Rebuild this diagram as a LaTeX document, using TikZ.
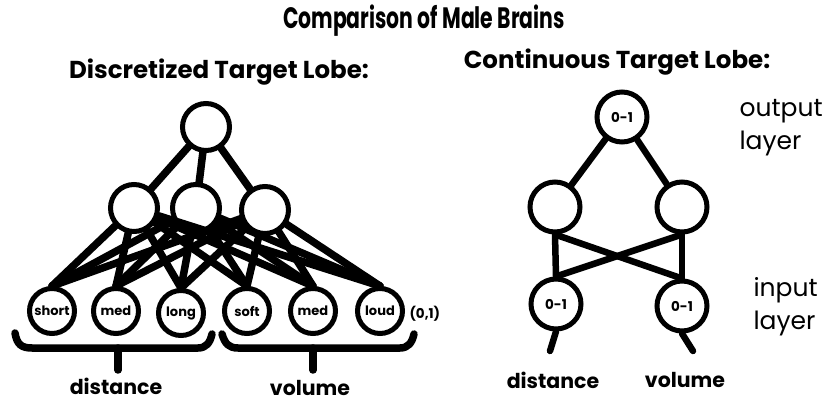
\documentclass[tikz,border=0pt]{standalone}
\usepackage{fontspec}
\setmainfont{Poppins}
\newfontfamily\headfont{Poppins}[FakeStretch=0.69]
\begin{document}
\begin{tikzpicture}[x=1pt,y=-1pt,
  neuron/.style={circle, draw, line width=5pt, inner sep=0pt, minimum size=47pt,
    font=\bfseries\fontsize{13}{14}\selectfont},
  small/.style={neuron, minimum size=45pt},
  big/.style={neuron, minimum size=50pt},
  wire/.style={line width=7.5pt, line cap=round},
  thinwire/.style={line width=6.5pt, line cap=round},
  brace/.style={line width=7.5pt, line cap=round, line join=round},
  caption/.style={font=\bfseries\fontsize{20.5}{24}\selectfont},
  side/.style={font=\fontsize{25}{33}\selectfont, align=left},
  heading/.style={font=\bfseries\fontsize{24.5}{28}\selectfont},
  unit/.style={font=\bfseries\fontsize{13.5}{14}\selectfont}]
\useasboundingbox (0,0) rectangle (825,406);

% titles
\node[font=\headfont\bfseries\fontsize{29.5}{32}\selectfont] (title) at (424,21) {Comparison of Male Brains};
\node[heading] (hleft) at (219,72) {Discretized Target Lobe:};
\node[heading] (hright) at (617,62) {Continuous Target Lobe:};

% ---- discretized network ----
\node[neuron] (t) at (206,127) {};
\node[neuron] (m1) at (134,208) {};
\node[neuron] (m2) at (196,208) {};
\node[neuron] (m3) at (265,210) {};
\node[small] (b1) at (52,311) {short};
\node[small] (b2) at (116,311) {med};
\node[small] (b3) at (181,313) {long};
\node[small] (b4) at (247,311) {soft};
\node[small] (b5) at (313,311) {med};
\node[small] (b6) at (380,311) {loud};
\node[unit, anchor=west] (range) at (406,314) {(0,1)};

\foreach \m in {m1,m2,m3} \draw[wire] (t) -- (\m);
\foreach \m in {m1,m2,m3}
  \foreach \b in {b1,b2,b3,b4,b5,b6}
    \draw[wire] (\m) -- (\b.north);

% braces under the input groups
\coordinate (dstem) at (118,370);
\coordinate (vstem) at (313,370);
\draw[brace] (15,333) .. controls (17,345) and (22,348) .. (32,348) -- (198,348)
  .. controls (206,348) and (210,343) .. (212,334);
\draw[brace] (118,348) -- (dstem);
\draw[brace] (222,334) .. controls (225,344) and (229,348) .. (238,348) -- (400,348)
  .. controls (408,348) and (412,343) .. (414,334);
\draw[brace] (313,348) -- (vstem);
\node[caption] (ldist) at (116,386) {distance};
\node[caption] (lvol) at (310,388) {volume};

% ---- continuous network ----
\node[big, unit] (ct) at (622,117) {0-1};
\node[big] (cm1) at (555,207) {};
\node[big] (cm2) at (682,207) {};
\node[big, unit] (cb1) at (556,304) {0-1};
\node[big, unit] (cb2) at (682,306) {0-1};
\draw[thinwire] (ct) -- (cm1);
\draw[thinwire] (ct) -- (cm2);
\draw[thinwire] (cm1.south) -- (cb1.north);
\draw[thinwire] (cm2.south) -- (cb2.north);
\draw[thinwire] (cm1.south) -- (cb2.north);
\draw[thinwire] (cm2.south) -- (cb1.north);
\coordinate (ctail1) at (550,351);
\coordinate (ctail2) at (693,351);
\draw[thinwire] (cb1.south) -- (ctail1);
\draw[thinwire] (cb2.south) -- (ctail2);
\node[caption] (rdist) at (553,380) {distance};
\node[caption] (rvol) at (685,380) {volume};

\node[side, anchor=west] (outl) at (736,128) {output\\layer};
\node[side, anchor=west] (inl) at (750,307) {input\\layer};
\end{tikzpicture}
\end{document}
